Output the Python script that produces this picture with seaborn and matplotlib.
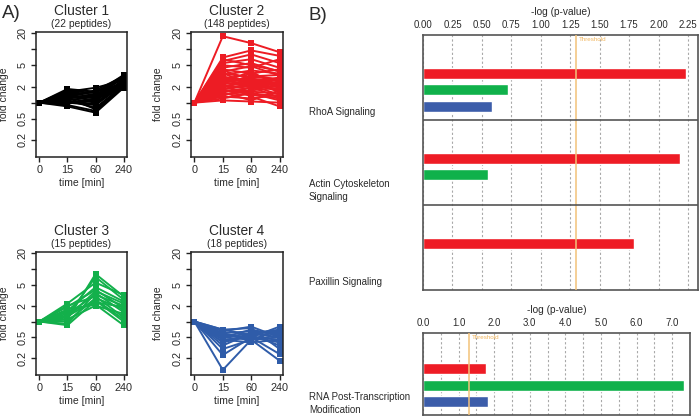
import matplotlib
matplotlib.use('Agg')

import matplotlib.pyplot as plt
import matplotlib.transforms as mtransforms
from matplotlib.ticker import NullLocator
import seaborn as sns
import pandas as pd

sns.set_style("white")
plt.rcParams['font.family'] = ['Liberation Sans', 'DejaVu Sans']

# ---------------- data: panel A (fold change per peptide at 0/15/60/240 min)
time_labels = ['0', '15', '60', '240']

cluster1 = [
    [1, 1.2, 1.0, 2.2], [1, 1.5, 1.3, 2.5], [1, 1.8, 1.6, 2.8], [1, 1.3, 1.7, 3.1],
    [1, 0.9, 0.7, 2.0], [1, 1.1, 0.8, 2.1], [1, 1.0, 1.1, 2.3], [1, 1.4, 1.2, 2.0],
    [1, 1.6, 1.9, 2.6], [1, 0.85, 0.65, 1.9], [1, 1.2, 1.4, 2.4], [1, 1.3, 1.1, 2.7],
    [1, 1.7, 1.5, 3.3], [1, 1.0, 0.9, 2.2], [1, 1.1, 1.3, 2.9], [1, 1.5, 1.0, 2.1],
    [1, 0.95, 1.2, 2.5], [1, 1.25, 0.75, 2.0], [1, 1.4, 1.6, 2.3], [1, 1.6, 1.4, 3.0],
    [1, 1.05, 0.95, 2.6], [1, 1.35, 1.25, 2.4],
]

cluster2 = [
    [1, 17.5, 13.0, 8.8], [1, 7.0, 9.5, 7.5], [1, 6.0, 8.0, 5.5], [1, 5.5, 6.5, 4.5],
    [1, 5.0, 4.5, 6.5], [1, 4.5, 5.5, 3.8], [1, 4.2, 3.5, 4.2], [1, 3.8, 4.8, 3.2],
    [1, 3.5, 3.0, 2.8], [1, 3.3, 4.0, 3.5], [1, 3.0, 2.6, 2.2], [1, 2.8, 3.4, 2.6],
    [1, 2.6, 2.2, 3.0], [1, 2.5, 2.9, 1.9], [1, 2.4, 2.0, 2.4], [1, 2.2, 2.6, 1.6],
    [1, 2.1, 1.8, 2.1], [1, 2.0, 2.4, 2.7], [1, 1.9, 1.6, 1.5], [1, 1.8, 2.1, 1.8],
    [1, 1.7, 1.5, 1.3], [1, 1.6, 1.9, 2.3], [1, 1.5, 1.4, 1.2], [1, 1.4, 1.7, 1.9],
    [1, 1.3, 1.2, 1.4], [1, 1.2, 1.5, 1.1], [1, 1.1, 1.05, 1.0], [1, 2.7, 2.5, 2.0],
    [1, 3.1, 2.3, 1.7], [1, 2.3, 3.1, 3.3], [1, 1.95, 2.8, 2.5], [1, 3.6, 2.1, 1.4],
    [1, 2.9, 1.9, 2.9], [1, 1.75, 2.3, 1.6], [1, 2.15, 1.3, 0.85], [1, 4.0, 2.7, 2.3],
    [1, 1.55, 1.1, 1.7], [1, 2.45, 3.8, 2.0], [1, 6.5, 5.0, 3.9], [1, 1.35, 1.95, 1.25],
]

cluster3 = [
    [1, 1.1, 8.0, 3.0], [1, 1.3, 7.0, 2.6], [1, 2.2, 5.5, 3.2], [1, 1.6, 4.5, 2.4],
    [1, 1.9, 4.0, 1.8], [1, 1.2, 3.8, 2.2], [1, 0.9, 3.5, 1.5], [1, 1.4, 3.2, 2.0],
    [1, 2.0, 3.0, 1.2], [1, 1.0, 2.8, 1.7], [1, 0.85, 2.5, 1.0], [1, 1.5, 2.3, 1.9],
    [1, 1.7, 2.1, 0.85], [1, 1.1, 2.0, 1.4], [1, 1.25, 2.6, 1.1],
]

cluster4 = [
    [1, 0.12, 0.45, 0.18], [1, 0.23, 0.5, 0.24], [1, 0.35, 0.6, 0.5], [1, 0.7, 0.55, 0.6],
    [1, 0.6, 0.45, 0.7], [1, 0.5, 0.7, 0.55], [1, 0.45, 0.4, 0.45], [1, 0.55, 0.5, 0.8],
    [1, 0.4, 0.55, 0.35], [1, 0.65, 0.8, 0.5], [1, 0.5, 0.6, 0.65], [1, 0.45, 0.5, 0.4],
    [1, 0.3, 0.45, 0.5], [1, 0.6, 0.65, 0.6], [1, 0.5, 0.45, 0.55], [1, 0.55, 0.5, 0.45],
    [1, 0.4, 0.6, 0.7], [1, 0.7, 0.75, 0.3],
]

cluster_titles = ['Cluster 1', 'Cluster 2', 'Cluster 3', 'Cluster 4']
cluster_counts = [22, 148, 15, 18]
cluster_colors = ['#000000', '#ED1C24', '#13B04B', '#2F5CA9']

fold_ticks = [0.2, 0.5, 1, 2, 5, 10, 20]
fold_tick_labels = ['0.2', '0.5', '', '2', '5', '', '20']

# ---------------- data: panel B (-log p-value, order: red, green, blue cluster)
pathways_top = ['RhoA Signaling', 'Actin Cytoskeleton\nSignaling', 'Paxillin Signaling']
rhoa_vals = [2.23, 0.72, 0.59]
actin_vals = [2.18, 0.55, None]
paxillin_vals = [1.79, None, None]

pathway_bottom = 'RNA Post-Transcription\nModification'
rna_vals = [1.77, 7.33, 1.83]

top_ticks = [0.0, 0.25, 0.5, 0.75, 1.0, 1.25, 1.5, 1.75, 2.0, 2.25]
bottom_ticks = [0, 1, 2, 3, 4, 5, 6, 7]
bottom_minor = [0.5, 1.5, 2.5, 3.5, 4.5, 5.5, 6.5, 7.5]
threshold = 1.301

bar_keys = ['c2', 'c3', 'c4']
bar_colors = {'c2': '#EE1C25', 'c3': '#10B14B', 'c4': '#3C5DAA'}

SECTION_H = 5.15
SLOT_OFF = 2.33
FRAME = '#555555'
TXT = '#2a2a2a'

fig = plt.figure(figsize=(7.0, 4.17), dpi=100)
W, H = 700, 417


def px_axes(x0, y0, x1, y1):
    return fig.add_axes([x0 / W, 1 - y1 / H, (x1 - x0) / W, (y1 - y0) / H])


# ---------------- panel A
a_boxes = [(36, 32, 127, 157), (191, 32, 283, 157),
           (36, 252, 127, 375), (191, 252, 283, 375)]
clusters = [cluster1, cluster2, cluster3, cluster4]

for i, (box, data) in enumerate(zip(a_boxes, clusters)):
    ax = px_axes(*box)
    rows = []
    for p, vals in enumerate(data):
        for k, v in enumerate(vals):
            rows.append({'peptide': p, 'pos': k + 1, 'fc': v})
    df = pd.DataFrame(rows)
    ax.set_yscale('log')
    sns.lineplot(data=df, x='pos', y='fc', units='peptide', estimator=None,
                 color=cluster_colors[i], marker='s', markersize=4.6,
                 markeredgewidth=0, lw=1.4, ax=ax)
    ax.set_xlim(0.88, 4.12)
    ax.set_ylim(0.096, 21)
    ax.set_xticks([1, 2, 3, 4])
    ax.set_xticklabels(time_labels, fontsize=7.8, color=TXT)
    ax.set_yticks(fold_ticks)
    ax.set_yticklabels(fold_tick_labels, fontsize=7.8, rotation=90, va='center', color=TXT)
    ax.yaxis.set_minor_locator(NullLocator())
    ax.tick_params(axis='both', direction='out', length=3.6, width=1.0,
                   color='#222222', pad=2.5, left=True, bottom=True)
    for s in ax.spines.values():
        s.set_color('#222222')
        s.set_linewidth(1.1)
    ax.set_xlabel('time [min]', fontsize=7.5, color=TXT)
    ax.set_ylabel('fold change', fontsize=7.5, color=TXT)
    ax.xaxis.set_label_coords(0.5, -0.17)
    ax.yaxis.set_label_coords(-0.3, 0.5)
    ax.text(0.5, 1.17, cluster_titles[i], transform=ax.transAxes, ha='center',
            va='center', fontsize=9.9, color=TXT)
    ax.text(0.5, 1.063, f'({cluster_counts[i]} peptides)', transform=ax.transAxes,
            ha='center', va='center', fontsize=7.4, color=TXT)

fig.text(2 / W, 1 - 14 / H, 'A)', fontsize=13.5, va='center', ha='left', color=TXT)
fig.text(308 / W, 1 - 15 / H, 'B)', fontsize=13.5, va='center', ha='left', color=TXT)


# ---------------- panel B
def bar_frame(values_list):
    rows = []
    for si, vals in enumerate(values_list):
        for ci, v in enumerate(vals):
            if v is not None:
                rows.append({'ypos': si * SECTION_H + SLOT_OFF + ci,
                             'value': v, 'cluster': bar_keys[ci]})
    return pd.DataFrame(rows)


def style_bar_axes(ax, ticks, fmt, minor=None):
    ax.xaxis.tick_top()
    ax.xaxis.set_label_position('top')
    ax.set_xticks(ticks)
    ax.set_xticklabels([fmt % t for t in ticks], fontsize=6.9, color=TXT)
    if minor is not None:
        ax.set_xticks(minor, minor=True)
    ax.tick_params(axis='x', which='both', length=0, pad=3.5)
    ax.tick_params(axis='y', left=False, labelleft=False)
    ax.grid(False)
    ax.xaxis.grid(True, which='both', color='#a8a8a8', linestyle=(0, (2, 2)), lw=0.8)
    ax.set_axisbelow(True)
    ax.set_ylabel('')
    ax.set_xlabel('-log (p-value)', fontsize=7.3, color=TXT, labelpad=3.5)
    for s in ax.spines.values():
        s.set_color(FRAME)
        s.set_linewidth(1.2)


# top block
axt = px_axes(423, 35, 698, 290)
dft = bar_frame([rhoa_vals, actin_vals, paxillin_vals])
sns.barplot(data=dft, x='value', y='ypos', hue='cluster', palette=bar_colors,
            orient='h', native_scale=True, dodge=False, width=0.67,
            errorbar=None, saturation=1, legend=False, ax=axt)
axt.set_xlim(0, 2.335)
axt.set_ylim(3 * SECTION_H, 0)
style_bar_axes(axt, top_ticks, '%.2f')
for si in range(1, 3):
    axt.axhline(si * SECTION_H, color=FRAME, lw=1.2, zorder=6)
axt.axvline(threshold, color='#F3C27A', lw=1.3, alpha=0.85, zorder=5)
axt.text(threshold + 0.02, 0.3, 'Threshold', fontsize=4.5, color='#F0B55E',
         va='center', ha='left', zorder=7)
trt = mtransforms.blended_transform_factory(fig.transFigure, axt.transData)
for si, name in enumerate(pathways_top):
    axt.text(309 / W, si * SECTION_H + 4.95, name, transform=trt, fontsize=7,
             va='bottom', ha='left', color=TXT, linespacing=1.3)

# bottom block
axb = px_axes(423, 333, 690, 415)
dfb = bar_frame([rna_vals])
dfb['ypos'] = dfb['ypos'] - 0.16
sns.barplot(data=dfb, x='value', y='ypos', hue='cluster', palette=bar_colors,
            orient='h', native_scale=True, dodge=False, width=0.67,
            errorbar=None, saturation=1, legend=False, ax=axb)
axb.set_xlim(0, 7.5)
axb.set_ylim(4.97, 0)
style_bar_axes(axb, bottom_ticks, '%.1f', minor=bottom_minor)
axb.axvline(threshold, color='#F3C27A', lw=1.3, alpha=0.85, zorder=5)
axb.text(threshold + 0.06, 0.3, 'Threshold', fontsize=4.5, color='#F0B55E',
         va='center', ha='left', zorder=7)
trb = mtransforms.blended_transform_factory(fig.transFigure, axb.transData)
axb.text(309 / W, 4.95, pathway_bottom, transform=trb, fontsize=7,
         va='bottom', ha='left', color=TXT, linespacing=1.3)

fig.savefig('out.png', dpi=100)
